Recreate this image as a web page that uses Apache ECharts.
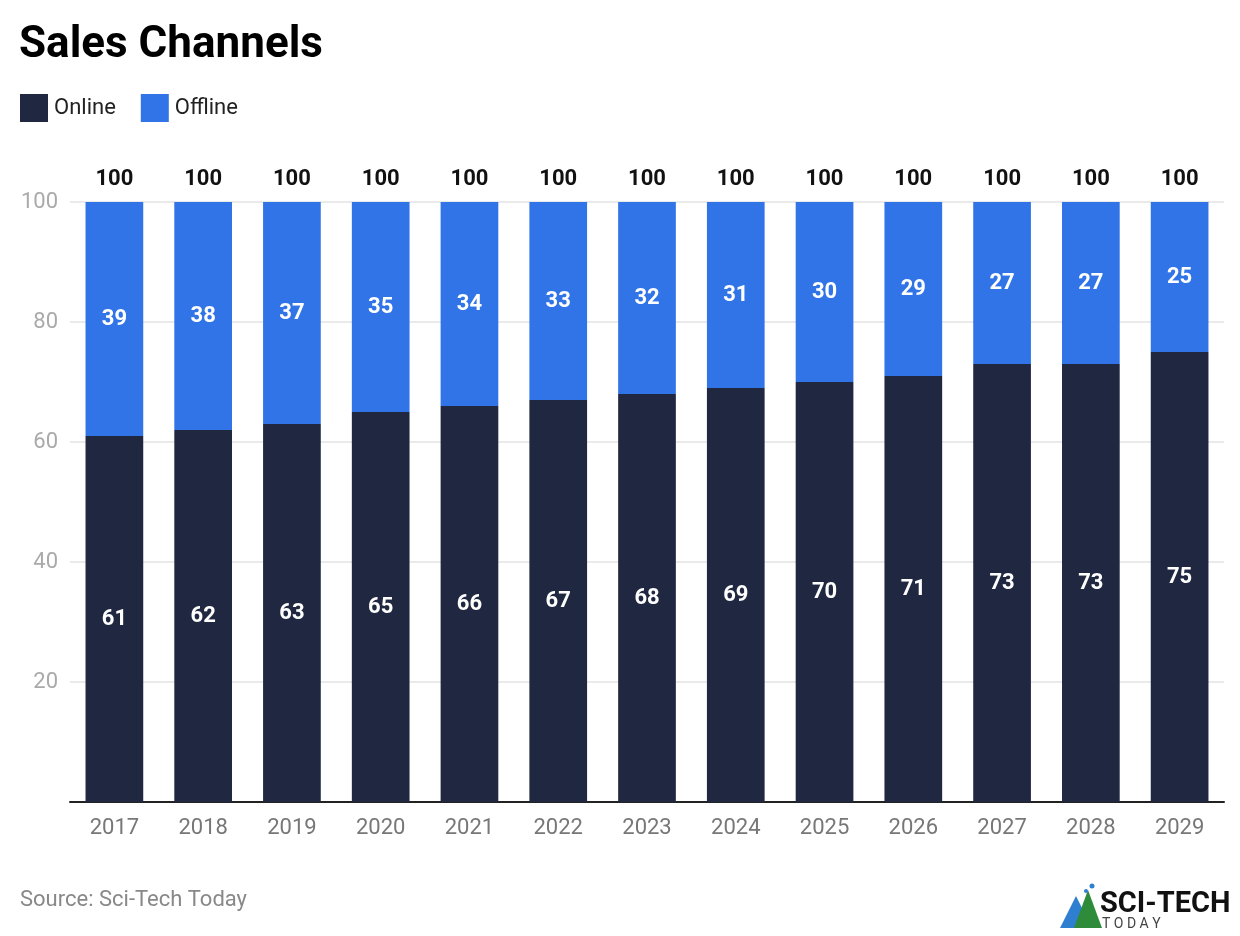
<!DOCTYPE html>
<html><head><meta charset="utf-8">
<script src="https://cdn.jsdelivr.net/npm/echarts@6/dist/echarts.min.js"></script>
<style>html,body{margin:0;padding:0;background:#fff}#c{width:1240px;height:936px}</style>
</head><body><div id="c"></div>
<script>
const years = ['2017','2018','2019','2020','2021','2022','2023','2024','2025','2026','2027','2028','2029'];
const online = [61,62,63,65,66,67,68,69,70,71,73,73,75];
const offline = [39,38,37,35,34,33,32,31,30,29,27,27,25];
const totals = [100,100,100,100,100,100,100,100,100,100,100,100,100];
const yTicks = [20,40,60,80,100];

const chart = echarts.init(document.getElementById('c'));
const F = 'Roboto, sans-serif';
chart.setOption({
  animation:false,
  textStyle:{fontFamily:F},
  title:{text:'Sales Channels',left:19,top:24,padding:0,textStyle:{fontFamily:F,fontSize:44,fontWeight:'bold',color:'#000'}},
  legend:{data:['Online','Offline'],left:20,top:94,padding:0,itemWidth:28,itemHeight:28,itemGap:25,icon:'rect',
    textStyle:{fontFamily:F,fontSize:22,color:'#222',padding:[0,0,0,1]}},
  grid:{left:70,right:16,top:202,bottom:134},
  xAxis:{type:'category',data:years,axisTick:{show:false},axisLine:{lineStyle:{color:'#222',width:2}},
    axisLabel:{fontFamily:F,fontSize:22,color:'#777',margin:15}},
  yAxis:{type:'value',min:0,max:100,interval:20,axisLine:{show:false},axisTick:{show:false},
    splitLine:{lineStyle:{color:'#e3e3e3',width:1.5}},
    axisLabel:{fontFamily:F,fontSize:22,color:'#aaa',margin:12,formatter:v=>yTicks.includes(v)?v:''}},
  series:[
    {name:'Online',type:'bar',stack:'t',data:online,barWidth:'65%',itemStyle:{color:'#202841'},
      label:{show:true,position:'inside',color:'#fff',fontFamily:F,fontSize:22,fontWeight:'bold'}},
    {name:'Offline',type:'bar',stack:'t',data:offline,itemStyle:{color:'#3174e8'},
      label:{show:true,position:'inside',color:'#fff',fontFamily:F,fontSize:22,fontWeight:'bold'}},
    {name:'Total',type:'bar',stack:'t',data:totals.map(()=>0),itemStyle:{color:'transparent'},
      label:{show:true,position:'top',distance:12,color:'#111',fontFamily:F,fontSize:22,fontWeight:'bold',
        formatter:p=>totals[p.dataIndex]}}
  ],
  graphic:[
    {type:'text',left:20,top:889,style:{text:'Source: Sci-Tech Today',font:'22px Roboto, sans-serif',fill:'#888'}},
    {type:'polygon',shape:{points:[[1060,928],[1076,896],[1092,928]]},style:{fill:'#2f7fd0'}},
    {type:'polygon',shape:{points:[[1074,928],[1088,890],[1102,928]]},style:{fill:'#2e8b3a'}},
    {type:'circle',shape:{cx:1092,cy:886,r:2.5},style:{fill:'#2f7fd0'}},
    {type:'circle',shape:{cx:1086,cy:891,r:2},style:{fill:'#2f7fd0'}},
    {type:'text',left:1100,top:890,style:{text:'SCI-TECH',font:'bold 29px Roboto, sans-serif',fill:'#111'}},
    {type:'text',left:1102,top:917,style:{text:'T O D A Y',font:'14px Roboto, sans-serif',fill:'#444'}}
  ]
});
</script></body></html>
